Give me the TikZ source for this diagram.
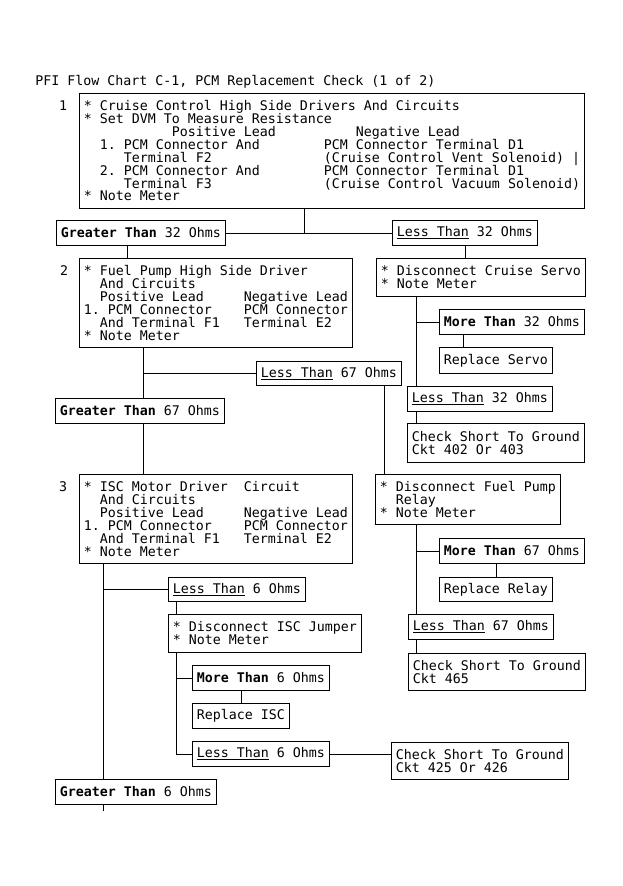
\documentclass[tikz,border=0pt]{standalone}
\usepackage{fontspec}
\setmonofont{DejaVu Sans Mono}
\usetikzlibrary{calc}
\newcommand{\chkfont}{\ttfamily\fontsize{13.29}{12.86}\selectfont\lineskiplimit=-6pt}
\newcommand{\gap}[1]{\hspace*{#1\fontcharwd\font`0}}
\newcommand{\gt}{\textbf{Greater Than}}
\newcommand{\mt}{\textbf{More Than}}
\newcommand{\lt}{\underline{Less Than}}
\tikzstyle{chk}=[draw, anchor=north west, align=left, inner xsep=4.5pt, inner ysep=0pt, minimum height=25pt, font=\chkfont]
\tikzstyle{stepno}=[font=\chkfont, inner sep=0pt]
\begin{document}
\begin{tikzpicture}[x=1pt,y=-1pt,line width=0.9pt]
  \useasboundingbox (0,0) rectangle (622,886);
  \node[stepno, anchor=base west] (title) at (35,85.5) {PFI Flow Chart C-1, PCM Replacement Check (1 of 2)};
  % step 1
  \node[stepno] (n1) at (63,106) {1};
  \node[chk, minimum height=115pt] (b1) at (79,93) {* Cruise Control High Side Drivers And Circuits\\
    * Set DVM To Measure Resistance\\
    \gap{11}Positive Lead\gap{10}Negative Lead\\
    \gap{2}1. PCM Connector And\gap{8}PCM Connector Terminal D1\\
    \gap{5}Terminal F2\gap{14}(Cruise Control Vent Solenoid) |\\
    \gap{2}2. PCM Connector And\gap{8}PCM Connector Terminal D1\\
    \gap{5}Terminal F3\gap{14}(Cruise Control Vacuum Solenoid)\\
    * Note Meter};
  \node[chk] (gt32) at (56,220) {\gt{} 32 Ohms};
  \node[chk] (lt32) at (392,220) {\lt{} 32 Ohms};
  % step 2
  \node[stepno] (n2) at (64,270.5) {2};
  \node[chk, minimum height=89pt] (b2) at (79,258) {* Fuel Pump High Side Driver\\
    \gap{2}And Circuits\\
    \gap{2}Positive Lead\gap{5}Negative Lead\\
    1. PCM Connector\gap{4}PCM Connector\\
    \gap{2}And Terminal F1\gap{3}Terminal E2\\
    * Note Meter};
  \node[chk, minimum height=38pt] (servo) at (376,258) {* Disconnect Cruise Servo\\* Note Meter};
  \node[chk] (mt32) at (439,309) {\mt{} 32 Ohms};
  \node[chk, minimum height=26pt] (repsv) at (439,347) {Replace Servo};
  \node[chk, minimum height=24pt] (lt67) at (256,361) {\lt{} 67 Ohms};
  \node[chk] (lt32b) at (407,386) {\lt{} 32 Ohms};
  \node[chk] (gt67) at (55,398) {\gt{} 67 Ohms};
  \node[chk, minimum height=39pt] (ck1) at (407,423) {Check Short To Ground\\Ckt 402 Or 403};
  % step 3
  \node[stepno] (n3) at (63,487) {3};
  \node[chk, minimum height=89pt] (b3) at (79,474) {* ISC Motor Driver\gap{2}Circuit\\
    \gap{2}And Circuits\\
    \gap{2}Positive Lead\gap{5}Negative Lead\\
    1. PCM Connector\gap{4}PCM Connector\\
    \gap{2}And Terminal F1\gap{3}Terminal E2\\
    * Note Meter};
  \node[chk, minimum height=50pt] (relay) at (375,474) {* Disconnect Fuel Pump\\\gap{2}Relay\\* Note Meter};
  \node[chk] (mt67) at (439,538) {\mt{} 67 Ohms};
  \node[chk, minimum height=24pt] (lt6) at (168,577) {\lt{} 6 Ohms};
  \node[chk, minimum height=24pt] (reprl) at (439,577) {Replace Relay};
  \node[chk] (lt67b) at (408,614) {\lt{} 67 Ohms};
  \node[chk, minimum height=38pt] (isc) at (168,614) {* Disconnect ISC Jumper\\* Note Meter};
  \node[chk, minimum height=37pt] (ck2) at (408,653) {Check Short To Ground\\Ckt 465};
  \node[chk] (mt6) at (192,665) {\mt{} 6 Ohms};
  \node[chk] (repisc) at (192,703) {Replace ISC};
  \node[chk] (lt6b) at (192,741) {\lt{} 6 Ohms};
  \node[chk, minimum height=37pt] (ck3) at (391,742) {Check Short To Ground\\Ckt 425 Or 426};
  \node[chk] (gt6) at (55,779) {\gt{} 6 Ohms};
  % columns of the connectors
  \coordinate (x1) at (304,0);
  \coordinate (x2) at (127,0);
  \coordinate (x3) at (143,0);
  \coordinate (x4) at (384,0);
  \coordinate (x5) at (416,0);
  \coordinate (x6) at (463,0);
  \coordinate (x7) at (103,0);
  \coordinate (x8) at (176,0);
  \coordinate (tail) at (103,811);
  \draw (b1.south -| x1) -- (x1 |- gt32.east);
  \draw (gt32.east) -- (lt32.west);
  \draw (gt32.south -| x2) -- (b2.north -| x2);
  \draw (lt32.south) -- (lt32.south |- servo.north);
  \draw (b2.south -| x3) -- (gt67.north -| x3);
  \draw (x3 |- lt67.west) -- (lt67.west);
  \draw (lt67.south -| x4) -- (relay.north -| x4);
  \draw (servo.south -| x5) -- (lt32b.north -| x5);
  \draw (x5 |- mt32.west) -- (mt32.west);
  \draw (mt32.south -| x6) -- (repsv.north -| x6);
  \draw (lt32b.south -| x5) -- (ck1.north -| x5);
  \draw (gt67.south -| x3) -- (b3.north -| x3);
  \draw (relay.south -| x5) -- (lt67b.north -| x5);
  \draw (x5 |- mt67.west) -- (mt67.west);
  \draw (reprl.north) -- (reprl.north |- mt67.south);
  \draw (lt67b.south -| x5) -- (ck2.north -| x5);
  \draw (b3.south -| x7) -- (gt6.north -| x7);
  \draw (x7 |- lt6.west) -- (lt6.west);
  \draw (lt6.south -| x8) -- (isc.north -| x8);
  \draw (isc.south -| x8) |- (lt6b.west);
  \draw (x8 |- mt6.west) -- (mt6.west);
  \draw (repisc.north) -- (repisc.north |- mt6.south);
  \draw (lt6b.east) -- (lt6b.east -| ck3.west);
  \draw (gt6.south -| x7) -- (tail);
\end{tikzpicture}
\end{document}
